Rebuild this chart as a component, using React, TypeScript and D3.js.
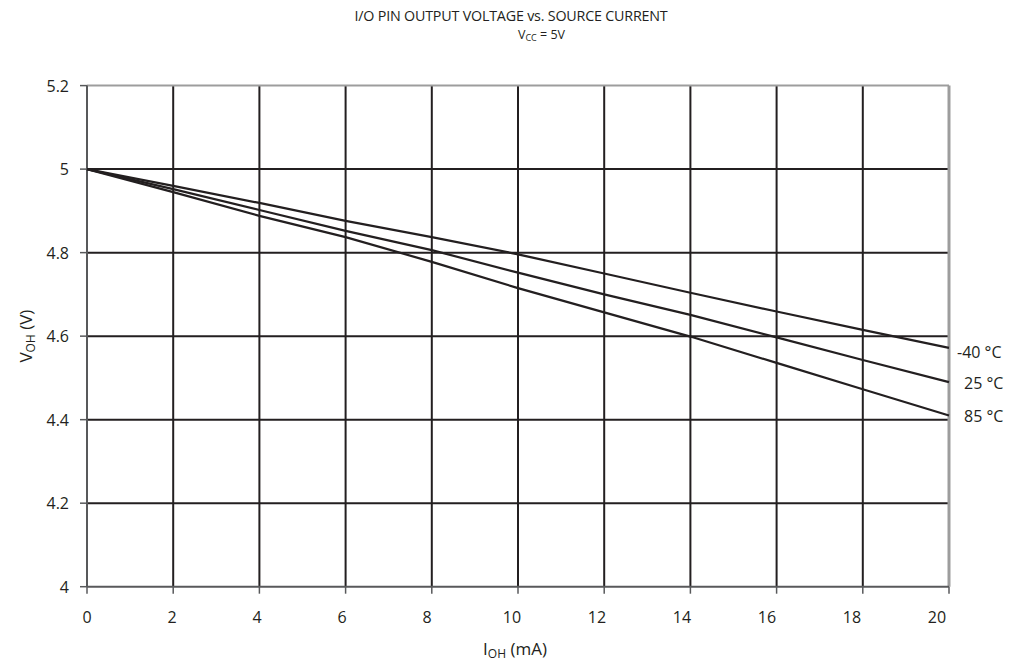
import React from "react";
import * as d3 from "d3";

const xTicks = [0, 2, 4, 6, 8, 10, 12, 14, 16, 18, 20];
const yTicks = [4, 4.2, 4.4, 4.6, 4.8, 5, 5.2];
const currents = [0, 2, 4, 6, 8, 10, 12, 14, 16, 18, 20];
const vMinus40 = [5.0, 4.96, 4.919, 4.876, 4.837, 4.796, 4.75, 4.704, 4.659, 4.615, 4.572];
const v25 = [5.0, 4.952, 4.902, 4.852, 4.806, 4.752, 4.70, 4.651, 4.597, 4.543, 4.49];
const v85 = [5.0, 4.945, 4.888, 4.837, 4.778, 4.715, 4.657, 4.599, 4.536, 4.473, 4.41];
const seriesNames = ["-40 °C", "25 °C", "85 °C"];
const seriesValues = [vMinus40, v25, v85];

const W = 1018;
const H = 665;
const left = 87;
const right = 949;
const top = 85.6;
const bottom = 586.7;

export default function App() {
  const x = d3.scaleLinear().domain([0, 20]).range([left, right]);
  const xLabel = d3.scaleLinear().domain([0, 20]).range([left, 937]);
  const y = d3.scaleLinear().domain([4, 5.2]).range([bottom, top]);
  const line = d3
    .line<number>()
    .x((_, i) => x(currents[i]))
    .y((d) => y(d));
  const font = "'Open Sans', 'DejaVu Sans', sans-serif";
  const dark = "#231f20";
  return (
    <svg
      width={W}
      height={H}
      style={{ position: "absolute", left: 0, top: 0, background: "#fff" }}
      fontFamily={font}
    >
      <text x={511} y={21} textAnchor="middle" fontSize={14.3} fill={dark} letterSpacing={-0.2}>
        I/O PIN OUTPUT VOLTAGE vs. SOURCE CURRENT
      </text>
      <text x={518} y={39} fontSize={12.5} fill={dark}>
        V<tspan fontSize={9} dy={1.5}>CC</tspan>
        <tspan dy={-1.5}> = 5V</tspan>
      </text>
      {/* vertical grid */}
      {xTicks
        .filter((t) => t > 0 && t < 20)
        .map((t) => (
          <line key={"vg" + t} x1={x(t)} x2={x(t)} y1={top} y2={bottom} stroke={dark} strokeWidth={2} />
        ))}
      {/* horizontal grid */}
      {yTicks
        .filter((t) => t > 4 && t < 5.2)
        .map((t) => (
          <line key={"hg" + t} x1={left} x2={right} y1={y(t)} y2={y(t)} stroke={dark} strokeWidth={2} />
        ))}
      {/* borders */}
      <line x1={left} x2={right} y1={top} y2={top} stroke="#9d9d9d" strokeWidth={2} />
      <line x1={right} x2={right} y1={top} y2={bottom} stroke="#9d9d9d" strokeWidth={3} />
      <line x1={left} x2={left} y1={top} y2={bottom} stroke="#58595b" strokeWidth={2} />
      <line x1={left} x2={right} y1={bottom} y2={bottom} stroke="#58595b" strokeWidth={2} />
      {/* ticks */}
      {yTicks.map((t) => (
        <g key={"yt" + t}>
          <line x1={left - 7} x2={left} y1={y(t)} y2={y(t)} stroke="#58595b" strokeWidth={1.5} />
          <text x={69} y={y(t)} textAnchor="end" dominantBaseline="central" fontSize={16} fill={dark}>
            {String(t)}
          </text>
        </g>
      ))}
      {xTicks.map((t) => (
        <g key={"xt" + t}>
          <line x1={x(t)} x2={x(t)} y1={bottom} y2={bottom + 7} stroke="#58595b" strokeWidth={1.5} />
          <text x={xLabel(t)} y={623} textAnchor="middle" fontSize={16} fill={dark}>
            {String(t)}
          </text>
        </g>
      ))}
      {/* axis titles */}
      <text x={515} y={655} textAnchor="middle" fontSize={17} fill={dark}>
        I<tspan fontSize={12} dy={3}>OH</tspan>
        <tspan dy={-3}> (mA)</tspan>
      </text>
      <text
        transform={`translate(32,${(top + bottom) / 2}) rotate(-90)`}
        textAnchor="middle"
        fontSize={17}
        fill={dark}
      >
        V<tspan fontSize={12} dy={3}>OH</tspan>
        <tspan dy={-3}> (V)</tspan>
      </text>
      {/* series */}
      {seriesValues.map((vals, i) => (
        <g key={"s" + i}>
          <path d={line(vals) || ""} fill="none" stroke={dark} strokeWidth={2.2} />
          <text
            x={i === 0 ? 957 : 964}
            y={y(vals[vals.length - 1]) + (i === 0 ? 4 : 1)}
            dominantBaseline="central"
            fontSize={16}
            fill={dark}
          >
            {seriesNames[i]}
          </text>
        </g>
      ))}
    </svg>
  );
}
